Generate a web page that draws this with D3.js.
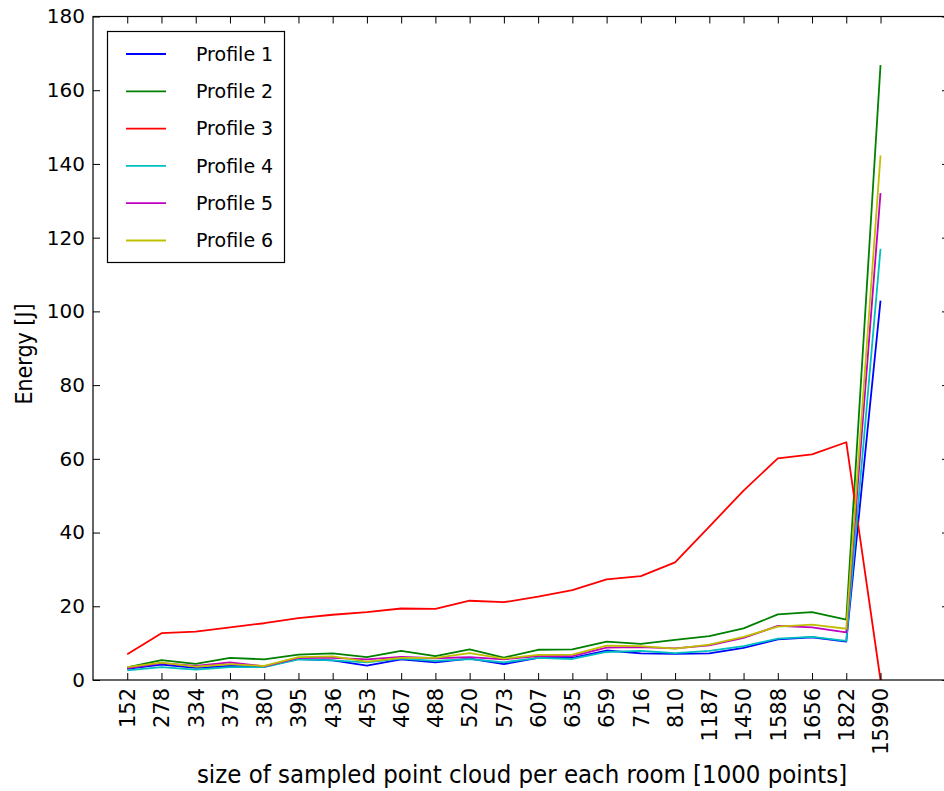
<!DOCTYPE html>
<html>
<head>
<meta charset="utf-8">
<script src="https://cdn.jsdelivr.net/npm/d3@7"></script>
<style>
  body { margin: 0; background: #fff; }
  svg { display: block; }
  text { font-family: "DejaVu Sans", sans-serif; fill: #000; }
</style>
</head>
<body>
<svg id="chart" width="944" height="791"></svg>
<script>
// Sampled point cloud sizes per room (thousands of points)
const sizes = ["152", "278", "334", "373", "380", "395", "436", "453", "467", "488", "520",
  "573", "607", "635", "659", "716", "810", "1187", "1450", "1588", "1656", "1822", "15990"];

// Energy [J] per profile
const profile1 = [3.0, 4.2, 3.3, 3.8, 3.6, 5.7, 5.3, 3.9, 5.6, 4.8, 5.8, 4.3, 6.0, 6.0, 8.0, 7.2, 7.1, 7.2, 8.7, 11.0, 11.6, 10.4, 102.9];
const profile2 = [3.4, 5.4, 4.4, 6.0, 5.6, 6.9, 7.2, 6.2, 7.9, 6.5, 8.3, 6.1, 8.2, 8.3, 10.4, 9.8, 10.9, 11.9, 14.0, 17.8, 18.4, 16.4, 166.8];
const profile3 = [7.0, 12.7, 13.1, 14.3, 15.4, 16.8, 17.7, 18.4, 19.4, 19.3, 21.5, 21.1, 22.6, 24.4, 27.3, 28.2, 31.9, 41.6, 51.4, 60.1, 61.2, 64.5, 0];
const profile4 = [2.6, 3.5, 2.8, 3.5, 3.5, 5.6, 5.3, 4.8, 5.8, 5.2, 5.7, 4.8, 6.0, 5.7, 7.6, 7.9, 7.3, 7.9, 9.2, 11.2, 11.7, 10.6, 117.0];
const profile5 = [3.2, 4.6, 3.8, 4.8, 3.7, 6.0, 6.0, 5.6, 6.3, 5.9, 6.2, 5.6, 6.5, 6.5, 8.8, 8.9, 8.6, 9.4, 11.4, 14.7, 14.3, 12.9, 132.1];
const profile6 = [3.5, 4.7, 3.6, 4.3, 3.8, 6.2, 6.4, 5.0, 6.0, 6.0, 7.3, 5.8, 6.8, 6.9, 9.3, 9.2, 8.5, 9.6, 11.7, 14.5, 15.0, 13.9, 142.3];

const seriesNames = ["Profile 1", "Profile 2", "Profile 3", "Profile 4", "Profile 5", "Profile 6"];
const seriesValues = [profile1, profile2, profile3, profile4, profile5, profile6];
const seriesColors = ["#0000ff", "#008000", "#ff0000", "#00bfbf", "#bf00bf", "#bfbf00"];
const yTicks = [0, 20, 40, 60, 80, 100, 120, 140, 160, 180];

const svg = d3.select("#chart");
const plotLeft = 93, plotRight = 949, plotTop = 16.5, plotBottom = 680;

const x = d3.scaleLinear().domain([0, sizes.length + 2]).range([plotLeft, plotRight]);
const y = d3.scaleLinear().domain([0, 180]).range([plotBottom, plotTop]);

const tickLen = 7;
const lineWidth = 1.8;

// Lines
const line = d3.line().x((d, i) => x(i + 1)).y(d => y(d));
const plot = svg.append("g");
seriesValues.forEach((vals, k) => {
  plot.append("path")
    .datum(vals)
    .attr("d", line)
    .attr("fill", "none")
    .attr("stroke", seriesColors[k])
    .attr("stroke-width", lineWidth)
    .attr("stroke-linejoin", "round");
});

// Axes with inward ticks
const xIdx = sizes.map((s, i) => i + 1);

const gx = svg.append("g").attr("transform", `translate(0,${plotBottom})`)
  .call(d3.axisBottom(x).tickValues(xIdx).tickFormat(i => sizes[i - 1])
    .tickSizeInner(-tickLen).tickSizeOuter(0).tickPadding(8));
gx.selectAll("text")
  .attr("transform", "rotate(-90)")
  .attr("text-anchor", "end")
  .attr("x", -8).attr("y", 0).attr("dy", "0.35em")
  .style("font-size", "21px");

const gxTop = svg.append("g").attr("transform", `translate(0,${plotTop})`)
  .call(d3.axisTop(x).tickValues(xIdx).tickFormat("")
    .tickSizeInner(-tickLen).tickSizeOuter(0));

const gy = svg.append("g").attr("transform", `translate(${plotLeft},0)`)
  .call(d3.axisLeft(y).tickValues(yTicks)
    .tickSizeInner(-tickLen).tickSizeOuter(0).tickPadding(8));
gy.selectAll("text").style("font-size", "20px");

const gyRight = svg.append("g").attr("transform", `translate(${plotRight},0)`)
  .call(d3.axisRight(y).tickValues(yTicks).tickFormat("")
    .tickSizeInner(-tickLen).tickSizeOuter(0));

[gx, gxTop, gy, gyRight].forEach(g => {
  g.select(".domain").remove();
  g.selectAll(".tick line").attr("stroke", "#000").attr("stroke-width", 1);
});

// Frame
svg.append("rect")
  .attr("x", plotLeft).attr("y", plotTop)
  .attr("width", plotRight - plotLeft).attr("height", plotBottom - plotTop)
  .attr("fill", "none").attr("stroke", "#000").attr("stroke-width", 1.2);

// Axis titles
svg.append("text")
  .attr("x", 522).attr("y", 783)
  .attr("text-anchor", "middle")
  .style("font-family", "'DejaVu Sans Condensed', 'DejaVu Sans', sans-serif")
  .style("font-size", "25.5px")
  .text("size of sampled point cloud per each room [1000 points]");

svg.append("text")
  .attr("transform", "translate(32,354) rotate(-90)")
  .attr("text-anchor", "middle")
  .style("font-family", "'DejaVu Sans Condensed', 'DejaVu Sans', sans-serif")
  .style("font-size", "23px")
  .text("Energy [J]");

// Legend
const lg = svg.append("g");
lg.append("rect")
  .attr("x", 107.5).attr("y", 31.5).attr("width", 177).attr("height", 231)
  .attr("fill", "#fff").attr("stroke", "#000").attr("stroke-width", 1.2);
seriesNames.forEach((name, k) => {
  const yy = 54 + k * 37.3;
  lg.append("line")
    .attr("x1", 126).attr("x2", 166).attr("y1", yy).attr("y2", yy)
    .attr("stroke", seriesColors[k]).attr("stroke-width", lineWidth);
  lg.append("text")
    .attr("x", 196).attr("y", yy).attr("dy", "0.35em")
    .style("font-size", "19px")
    .text(name);
});
</script>
</body>
</html>
